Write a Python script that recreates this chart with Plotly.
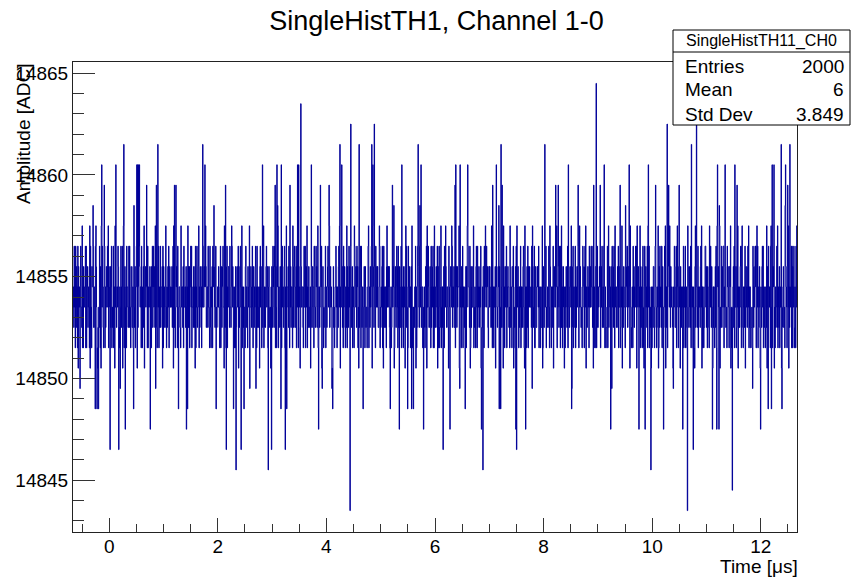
import numpy as np
import plotly.graph_objects as go

# ---- Histogram definition: 2000 samples over [-2/3, 38/3] microseconds ----
n_bins = 2000
x_min, x_max = -2.0 / 3.0, 38.0 / 3.0

# Per-bin ADC amplitude, one digit per bin: digit d -> 14849.5 + d
bulk_base = 14849.5
bulk_rows = [
    "4537452746 3527164453 5744382526 4455727245 6354428173 4265597354 3578645213 5437526184 4753254725 3564475826",
    "5446357243 4725518464 3554762325 6473557138 4256645275 5434737642 4563352594 3625574163 5476645527 4255638145",
    "6453727254 4564532657 3475643804 5326647253 4734556172 6453348524 3564725645 4456357183 5324656427 4735543285",
    "4553627445 5364451836 3625574724 4536635172 5473446825 3654526417 4465358634 5537443275 3254627569 6435714345",
    "5464325726 4356744183 3525672546 6437443587 4653352426 5346547163 4475638254 3564426735 5426545804 4653374265",
    "3546725273 5435516746 4254378235 4356745627 5643341586 3475637642 6425598253 4563352674 5346725518 4455637325",
    "4635542863 5763357264 3524645137 6445532574 4726648253 5634451326 3465527643 4756348235 5344657102 6423345725",
    "4356745283 5645401746 3423557452 5436748315 4554362745 6325538264 3574647153 4625542876 5463756241 4356727534",
    "5534642653 4423578245 3645741836 5356427546 4643358724 3546725173 5435526846 4656327452 3544659125 6435746273",
    "4563357264 5326645138 3754427546 4525658234 6443547152 3576643795 4634552463 5325637184 4753346527 3546725283",
    "5436547162 4723358245 3545627648 6435543175 4256648735 5463342756 3645558103 4526647254 5343562648 4755437126",
    "3564458243 5426742735 4653547183 3526627458 5475563246 4654338527 3525446152 5434659264 4753547318 3526645725",
    "4655342863 5326657124 3564738546 4253547253 5436742185 3525637264 4654453708 5436722653 3565647245 4253358126",
    "5364457243 4535742865 3254537146 5443568254 4635742738 3526643152 5465337246 4356548103 6725543725 3564657248",
    "4653342576 5426748153 3564527446 4755437182 5326642573 3545658246 4734537152 5423347268 3654546307 4536752845",
    "5345637264 4523548153 3654429765 4736643518 5423352746 3546747185 4653548263 5426742157 3564537284 4725346152",
    "4536642375 5423548126 3754537264 4536748153 5325627486 3654543105 4763357248 5426645163 3545637254 4723542786",
    "5346637245 4523542168 3755437254 4536748152 5423357746 3526543285 4753642153 5325637268 3564598143 4736547725",
    "4563342756 5426658142 3745637264 4623548153 5346742785 3254537146 4536748253 5423342076 3546757248 4723546315",
    "5436747253 4523538164 3754542785 4526657142 5345738254 3624547163 4563342976 5426748153 3545727265 4723542748",
]

# Bins outside the bulk band (bin index -> ADC value)
peak_bins = [
    79, 86, 118, 140, 176, 178, 181, 183, 203, 230, 234, 280, 284, 358, 364, 421,
    523, 558, 563, 575, 599, 620, 623, 629, 658, 683, 707, 737, 742, 767, 790,
    825, 828, 832, 882, 908, 953, 961, 1055, 1057, 1069, 1090, 1159, 1169, 1182,
    1185, 1303, 1333, 1340, 1368, 1395, 1438, 1445, 1456, 1467, 1511, 1536, 1589,
    1609, 1641, 1645, 1674, 1708, 1722, 1780, 1801, 1828, 1834, 1931, 1936, 1956,
    1968, 1974, 1980,
    19, 61, 66, 70, 102, 126, 130, 144, 167, 213, 291, 313, 316, 395, 423, 443,
    450, 464, 472, 505, 539, 548, 574, 586, 590, 678, 717, 765, 801, 876, 901,
    924, 935, 940, 968, 1022, 1041, 1083, 1128, 1132, 1177, 1181, 1223, 1225,
    1250, 1377, 1485, 1563, 1580, 1596, 1631, 1684, 1697, 1713, 1766, 1778, 1784,
    1821, 1899, 1920, 1929, 1958,
]
peak_adc = [
    14860.5, 14859.5, 14860.5, 14861.5, 14860.5, 14860.5, 14860.5, 14860.5, 14859.5, 14859.5, 14861.5, 14859.5, 14859.5, 14861.5, 14860.5, 14859.5,
    14860.5, 14859.5, 14860.5, 14860.5, 14859.5, 14860.5, 14860.5, 14863.5, 14860.5, 14859.5, 14859.5, 14861.5, 14860.5, 14862.5, 14861.5,
    14861.5, 14860.5, 14862.5, 14859.5, 14860.5, 14861.5, 14860.5, 14859.5, 14860.5, 14860.5, 14860.5, 14859.5, 14860.5, 14861.5,
    14859.5, 14861.5, 14859.5, 14859.5, 14860.5, 14859.5, 14859.5, 14864.5, 14859.5, 14860.5, 14859.5, 14860.5, 14860.5,
    14859.5, 14862.5, 14859.5, 14859.5, 14861.5, 14862.5, 14860.5, 14860.5, 14860.5, 14859.5, 14860.5, 14860.5, 14861.5,
    14860.5, 14859.5, 14861.5,
    14849.5, 14848.5, 14848.5, 14848.5, 14846.5, 14846.5, 14849.5, 14847.5, 14848.5, 14847.5, 14848.5, 14847.5, 14848.5, 14848.5, 14846.5, 14848.5,
    14845.5, 14846.5, 14848.5, 14849.5, 14845.5, 14846.5, 14848.5, 14846.5, 14848.5, 14847.5, 14848.5, 14843.5, 14848.5, 14848.5, 14847.5,
    14848.5, 14848.5, 14848.5, 14847.5, 14846.5, 14847.5, 14848.5, 14847.5, 14845.5, 14848.5, 14848.5, 14847.5, 14846.5,
    14847.5, 14848.5, 14847.5, 14847.5, 14847.5, 14845.5, 14847.5, 14847.5, 14843.5, 14846.5, 14847.5, 14847.5, 14847.5,
    14844.5, 14847.5, 14848.5, 14848.5, 14848.5,
]

groups = " ".join(bulk_rows).split()
bad = [(k, g) for k, g in enumerate(groups) if len(g) != 10]
assert not bad and len(groups) == n_bins // 10, (bad, len(groups))
assert len(peak_bins) == len(peak_adc)
bulk_digits = "".join(groups)

amplitude = np.array([bulk_base + int(c) for c in bulk_digits], dtype=float)
amplitude[np.array(peak_bins)] = np.array(peak_adc)

edges = np.linspace(x_min, x_max, n_bins + 1)
centers = 0.5 * (edges[:-1] + edges[1:])

# Statistics as ROOT reports them (bin contents used as weights)
entries = n_bins
mean = np.sum(centers * amplitude) / np.sum(amplitude)
std = np.sqrt(np.sum(amplitude * (centers - mean) ** 2) / np.sum(amplitude))

# Step outline of the histogram
step_x = np.append(edges[:-1], edges[-1])
step_y = np.append(amplitude, amplitude[-1])

y_lo = amplitude.min() - 0.05 * (amplitude.max() - amplitude.min())
y_hi = amplitude.max() + 0.05 * (amplitude.max() - amplitude.min())

FONT = "Liberation Sans, Arial, Helvetica, sans-serif"
LINE_COLOR = "#000099"

fig = go.Figure()
fig.add_trace(go.Scatter(
    x=step_x, y=step_y, mode="lines", line_shape="hv",
    line=dict(color=LINE_COLOR, width=1), hoverinfo="skip", showlegend=False,
))

# Plot-area geometry in pixels
W, H = 851, 577
L, R, T, B = 73, 54, 62, 45
pw, ph = W - L - R, H - T - B


def px(xp):
    return (xp - L) / pw


def py(yp):
    return (H - B - yp) / ph


fig.update_layout(
    width=W, height=H,
    margin=dict(l=L, r=R, t=T, b=B, pad=0),
    paper_bgcolor="white", plot_bgcolor="white",
    font=dict(family=FONT, color="black"),
    title=dict(text="SingleHistTH1, Channel 1-0", x=436.5 / W, xref="container",
               y=1 - 21 / H, yref="container", xanchor="center", yanchor="middle",
               font=dict(size=27, family=FONT, color="black")),
    xaxis=dict(range=[x_min, x_max], showgrid=False, zeroline=False,
               showline=True, mirror=True, linecolor="#222", linewidth=1,
               ticks="inside", ticklen=14, tickcolor="#333", tickwidth=1,
               tick0=0, dtick=2, tickfont=dict(size=19, family=FONT),
               ticklabelstandoff=-3,
               minor=dict(ticks="inside", ticklen=8, tickcolor="#333", dtick=0.5, tick0=0)),
    yaxis=dict(range=[y_lo, y_hi], showgrid=False, zeroline=False,
               showline=True, mirror=True, linecolor="#222", linewidth=1,
               ticks="inside", ticklen=22, tickcolor="#333", tickwidth=1,
               tick0=14845, dtick=5, tickformat="d", tickfont=dict(size=19, family=FONT),
               minor=dict(ticks="inside", ticklen=11, tickcolor="#333", dtick=1, tick0=14845)),
)

# Axis titles (ROOT style: aligned to the axis end)
fig.add_annotation(text="Time [\u03bcs]", xref="paper", yref="paper",
                   x=px(800), y=py(566), xanchor="right", yanchor="middle",
                   showarrow=False, font=dict(size=19, family=FONT, color="black"))
fig.add_annotation(text="Amplitude [ADC]", xref="paper", yref="paper",
                   x=px(23), y=1.0, xanchor="center", yanchor="top", textangle=-90,
                   showarrow=False, font=dict(size=19, family=FONT, color="black"))

# Statistics box
bx0, bx1, by0, by1, bsep = 673, 850, 125, 30, 52
fig.add_shape(type="rect", xref="paper", yref="paper",
              x0=px(bx0), x1=px(bx1), y0=py(by0), y1=py(by1),
              line=dict(color="black", width=1), fillcolor="white", layer="above")
fig.add_shape(type="line", xref="paper", yref="paper",
              x0=px(bx0), x1=px(bx1), y0=py(bsep), y1=py(bsep),
              line=dict(color="black", width=1), layer="above")
fig.add_annotation(text="SingleHistTH11_CH0", xref="paper", yref="paper",
                   x=px((bx0 + bx1) / 2), y=py(41), xanchor="center", yanchor="middle",
                   showarrow=False, font=dict(size=16, family=FONT, color="black"))
stat_rows = [("Entries", f"{entries}"), ("Mean", f"{mean:.4g}"), ("Std Dev", f"{std:.4g}")]
for k, (name, val) in enumerate(stat_rows):
    yc = 66 + 24 * k
    fig.add_annotation(text=name, xref="paper", yref="paper", x=px(683), y=py(yc),
                       xanchor="left", yanchor="middle", showarrow=False,
                       font=dict(size=19, family=FONT, color="black"))
    fig.add_annotation(text=val, xref="paper", yref="paper", x=px(846), y=py(yc),
                       xanchor="right", yanchor="middle", showarrow=False,
                       font=dict(size=19, family=FONT, color="black"))

fig.write_html("out.html")
